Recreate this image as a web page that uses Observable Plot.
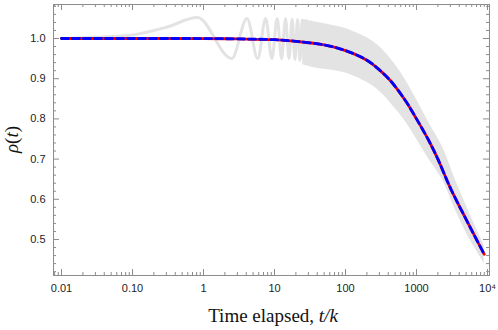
<!DOCTYPE html>
<html>
<head>
<meta charset="utf-8">
<script src="https://cdn.jsdelivr.net/npm/d3@7"></script>
<script src="https://cdn.jsdelivr.net/npm/@observablehq/plot@0.6"></script>
<style>
  html, body { margin: 0; padding: 0; background: #fff; }
  #chart { width: 498px; height: 330px; }
</style>
</head>
<body>
<div id="chart"></div>
<script>
// ---- data ----
// main curve (red solid / blue dashed overlay)
const curveT = [0.01, 0.1, 1, 3, 10, 20, 50, 100, 200, 300, 430, 700, 1000, 1500, 2000, 3000, 5000, 7000, 9000];
const curveV = [1.0, 1.0, 0.9999, 0.999, 0.997, 0.993, 0.984, 0.970, 0.946, 0.922, 0.895, 0.845, 0.80, 0.745, 0.70, 0.628, 0.55, 0.50, 0.463];

// gray oscillating signal, extrema and shoulder points (early times)
const oscT = [0.01, 0.03, 0.1, 0.3, 0.82, 2.5, 4.1, 5.8, 7.5, 9.2, 10.9, 12.6, 14.3, 16, 17.7, 19.4, 21.1, 22.8, 24.5, 26.2, 27.9];
const oscV = [1.0, 1.003, 1.009, 1.028, 1.052, 0.95, 1.05, 0.95, 1.05, 0.95, 1.05, 0.95, 1.05, 0.95, 1.048, 0.948, 1.047, 0.945, 1.046, 0.942, 1.045];

// gray envelope band (late times, oscillations too fast to resolve)
const bandT = [25, 40, 70, 100, 200, 300, 500, 700, 1000, 1500, 2300, 3500, 5000, 7000, 9000];
const bandHi = [1.047, 1.04, 1.032, 1.025, 1.002, 0.98, 0.935, 0.897, 0.848, 0.79, 0.732, 0.65, 0.585, 0.527, 0.485];
const bandLo = [0.935, 0.926, 0.92, 0.914, 0.891, 0.869, 0.826, 0.793, 0.75, 0.699, 0.65, 0.575, 0.517, 0.472, 0.44];

// ticks
const xMajor = [0.01, 0.1, 1, 10, 100, 1000, 10000];
const xMajorLabels = ["0.01", "0.10", "1", "10", "100", "1000", "10\u2074"];
const xMinor = [0.008, 0.009].concat(...[0.01, 0.1, 1, 10, 100, 1000].map(d => [2,3,4,5,6,7,8,9].map(k => +(k * d).toPrecision(3))));
const yMajor = [0.5, 0.6, 0.7, 0.8, 0.9, 1.0];
const yMinor = [0.42, 0.44, 0.46, 0.48, 0.52, 0.54, 0.56, 0.58, 0.62, 0.64, 0.66, 0.68, 0.72, 0.74, 0.76, 0.78, 0.82, 0.84, 0.86, 0.88, 0.92, 0.94, 0.96, 0.98, 1.02, 1.04, 1.06, 1.08];

// ---- tables ----
const curve = curveT.map((t, i) => ({t, v: curveV[i]}));
const osc = oscT.map((t, i) => ({t, v: oscV[i]}));
const band = bandT.map((t, i) => ({t, hi: bandHi[i], lo: bandLo[i]}));

const W = 498, H = 330, mL = 53, mR = 9, mT = 4, mB = 55;
const fw = W - mL - mR, fh = H - mT - mB;
const gray = "#8c8c8c";
const lbl = xMajor.reduce((m, d, i) => (m.set(d, xMajorLabels[i]), m), new Map());

const chart = Plot.plot({
  width: W, height: H,
  marginLeft: mL, marginRight: mR, marginTop: mT, marginBottom: mB,
  style: {fontFamily: "'Liberation Sans', Arial, sans-serif", fontSize: "11px", color: "#333", background: "#fff"},
  x: {type: "log", domain: [0.00771, 10670]},
  y: {domain: [0.4104, 1.0846]},
  marks: [
    Plot.areaY(band, {x: "t", y1: "lo", y2: "hi", fill: "#e3e3e3", curve: "catmull-rom"}),
    Plot.line(osc, {x: "t", y: "v", stroke: "#e3e3e3", strokeWidth: 3, curve: "monotone-x"}),
    Plot.line(curve, {x: "t", y: "v", stroke: "#ff0000", strokeWidth: 2.8, curve: "catmull-rom"}),
    Plot.line(curve, {x: "t", y: "v", stroke: "#0000ff", strokeWidth: 2.8, strokeDasharray: "7,4", curve: "catmull-rom"}),
    // frame ticks (inward)
    Plot.tickX(xMajor, {x: d => d, stroke: gray, insetTop: fh - 6}),
    Plot.tickX(xMajor, {x: d => d, stroke: gray, insetBottom: fh - 6}),
    Plot.tickX(xMinor, {x: d => d, stroke: gray, insetTop: fh - 3}),
    Plot.tickX(xMinor, {x: d => d, stroke: gray, insetBottom: fh - 3}),
    Plot.tickY(yMajor, {y: d => d, stroke: gray, insetRight: fw - 6}),
    Plot.tickY(yMajor, {y: d => d, stroke: gray, insetLeft: fw - 6}),
    Plot.tickY(yMinor, {y: d => d, stroke: gray, insetRight: fw - 3}),
    Plot.tickY(yMinor, {y: d => d, stroke: gray, insetLeft: fw - 3}),
    Plot.axisX(xMajor, {anchor: "bottom", tickSize: 0, tickPadding: 9, tickFormat: d => lbl.get(d), label: null, fill: "#222"}),
    Plot.axisY(yMajor, {anchor: "left", tickSize: 0, tickPadding: 8, tickFormat: d3.format(".1f"), label: null, fill: "#222"}),
    Plot.frame({stroke: gray, strokeWidth: 1})
  ]
});

const svg = d3.select(chart);
const xl = svg.append("text")
  .attr("x", mL + fw / 2 + 2).attr("y", 322)
  .attr("text-anchor", "middle")
  .style("font-family", "'Liberation Serif', 'Times New Roman', serif")
  .style("font-size", "19px").attr("fill", "#111");
xl.append("tspan").text("Time elapsed, ");
xl.append("tspan").style("font-style", "italic").text("t/k");

const yl = svg.append("text")
  .attr("transform", `translate(18,${mT + fh / 2}) rotate(-90)`)
  .attr("text-anchor", "middle")
  .style("font-family", "'Liberation Serif', 'Times New Roman', serif")
  .style("font-size", "19px").attr("fill", "#111");
yl.append("tspan").style("font-style", "italic").text("\u03C1");
yl.append("tspan").text("(");
yl.append("tspan").style("font-style", "italic").text("t");
yl.append("tspan").text(")");

document.getElementById("chart").appendChild(chart);
</script>
</body>
</html>
